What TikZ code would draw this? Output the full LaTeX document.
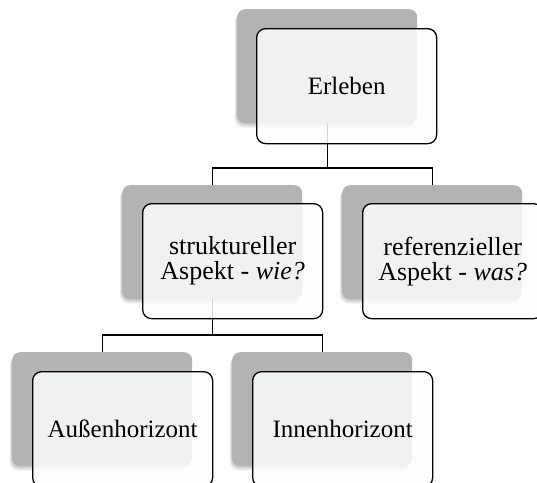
\documentclass[tikz,border=0pt]{standalone}
\usepackage{fontspec}
\setmainfont{Liberation Serif}
\begin{document}
\begin{tikzpicture}[x=1pt,y=-1pt,
  graybox/.style={fill={rgb,255:red,179;green,179;blue,179}, rounded corners=8pt, minimum width=180pt, minimum height=114pt, inner sep=0pt, anchor=north west},
  shadowbox/.style={fill=black, fill opacity=0.06, rounded corners=9pt, minimum width=180pt, minimum height=114pt, inner sep=0pt, anchor=north west},
  whitebox/.style={draw=black, line width=1.3pt, fill={rgb,255:red,252;green,254;blue,254}, fill opacity=0.84, text opacity=1, rounded corners=9pt, minimum width=180pt, minimum height=115pt, inner sep=0pt, anchor=north west, align=center, text=black},
  conn/.style={draw=black, line width=1.3pt}
]
\useasboundingbox (0,0) rectangle (537,482);
\clip (0,0) rectangle (537,482);
% shadows
\foreach \p in {(237,9),(122,185),(342,185),(12,352),(232,352)}{
  \foreach \d in {1,2,3,4}{
    \path \p ++(-0.6*\d,1.1*\d) node[shadowbox]{};
  }
}
% gray boxes
\node[graybox] (g1) at (237,9) {};
\node[graybox] (g2) at (122,185) {};
\node[graybox] (g3) at (342,185) {};
\node[graybox] (g4) at (12,352) {};
\node[graybox] (g5) at (232,352) {};
% connectors
\coordinate (j1) at (g1.south |- 0,168);
\coordinate (j2) at (g2.south |- 0,335);
\draw[conn] (g1.south) -- (j1) -| (g2.north);
\draw[conn] (j1) -| (g3.north);
\draw[conn] (g2.south) -- (j2) -| (g4.north);
\draw[conn] (j2) -| (g5.north);
% front boxes
\node[whitebox, font=\fontsize{25}{25}\selectfont] (w1) at (256,28) {Erleben};
\node[whitebox, font=\fontsize{26}{25}\selectfont] (w2) at (142,203) {struktureller\\Aspekt - \textit{wie?}};
\node[whitebox, font=\fontsize{26}{25}\selectfont] (w3) at (362,203) {referenzieller\\Aspekt - \textit{was?}};
\node[whitebox, font=\fontsize{25}{25}\selectfont] (w4) at (32,371) {Außenhorizont};
\node[whitebox, font=\fontsize{25}{25}\selectfont] (w5) at (252,371) {Innenhorizont};
\end{tikzpicture}
\end{document}
